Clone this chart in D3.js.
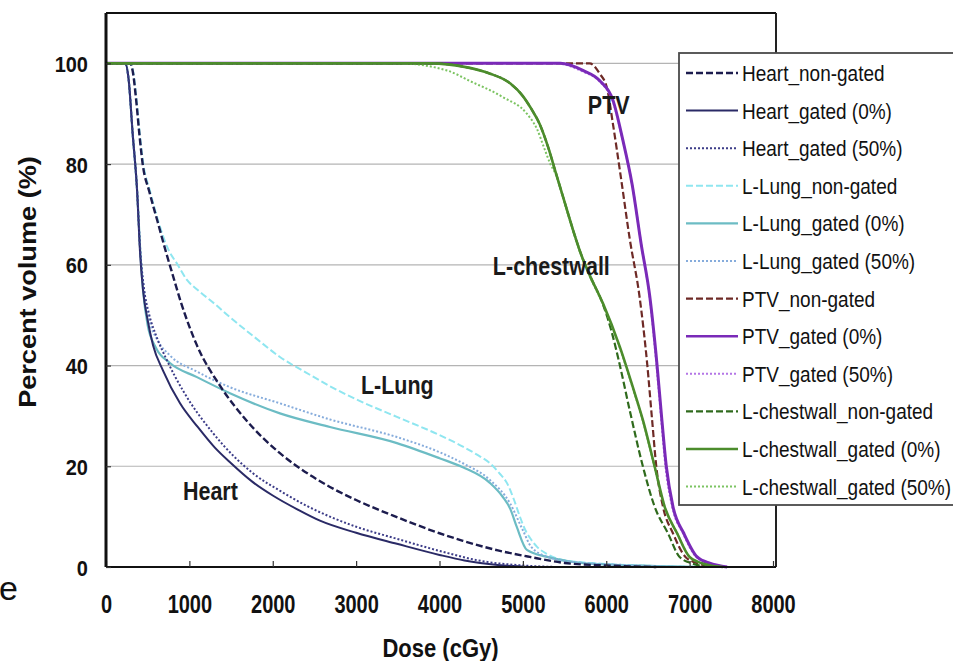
<!DOCTYPE html>
<html>
<head>
<meta charset="utf-8">
<script src="https://cdn.jsdelivr.net/npm/d3@7/dist/d3.min.js"></script>
<style>
  html, body { margin: 0; padding: 0; background: #fff; }
  svg { display: block; }
  text { font-family: "Liberation Sans", Arial, sans-serif; }
</style>
</head>
<body>
<div id="chart"></div>
<script>
// ---------- DATA ----------
const xTicks = [0, 1000, 2000, 3000, 4000, 5000, 6000, 7000, 8000];
const yTicks = [0, 20, 40, 60, 80, 100];

const heartNonGated = [[0,100],[290,100],[320,98.5],[360,93],[400,86],[440,80],[520,74.5],[620,68.5],[720,62.5],[800,58],[900,52.5],[1091,44],[1367,36],[1690,29],[2086,22.6],[2482,17.9],[2686,15.9],[3000,13.3],[3489,9.9],[4000,6.7],[4281,5.2],[4700,3.3],[5084,2],[5500,0.8],[6000,0.3],[6600,0]];
const heartGated0 = [[0,100],[230,100],[270,97],[320,86],[372,75],[410,62],[444,55],[500,49],[565,44],[684,39],[888,32.5],[1100,27.8],[1300,23.8],[1500,20.6],[1750,17],[2000,14.2],[2300,11.4],[2566,9.2],[3000,6.8],[3489,4.6],[4000,2.4],[4300,1.3],[4700,0.4],[5100,0]];
const heartGated50 = [[0,100],[230,100],[270,97],[320,86],[372,75],[410,63],[450,56],[520,50],[600,46],[732,41],[924,35],[1283,26.6],[1763,18.6],[2100,15],[2400,12.2],[2686,10],[3000,8],[3489,5.6],[4000,3.2],[4500,1.2],[5000,0.3],[5400,0]];

const lungNonGated = [[0,100],[290,100],[325,98.5],[365,93],[405,86],[448,80],[530,74.5],[630,68.5],[735,63.5],[860,60],[971,57],[1100,55],[1300,52.3],[1487,49.6],[1800,45.4],[2086,41.7],[2400,38.6],[2686,35.9],[3000,33.3],[3489,29.8],[4000,26.2],[4281,23.9],[4450,22.3],[4604,20.6],[4720,18.6],[4808,16.7],[4890,13.5],[4964,10],[5030,7.3],[5084,5.8],[5170,4],[5300,2.5],[5480,1.4],[6000,0.6],[6600,0.2],[7300,0]];
const lungGated0 = [[0,100],[230,100],[270,97],[320,86],[372,75],[410,63],[444,55],[500,48],[600,43.5],[767,40.5],[1091,37.7],[1487,34.5],[2086,30.5],[2686,27.8],[3489,24.6],[4000,21.6],[4281,19.8],[4604,16.7],[4760,13.9],[4850,11.5],[4928,7.9],[5048,3.4],[5290,2],[5600,1],[6000,0.5],[6600,0.2],[7200,0]];
const lungGated50 = [[0,100],[230,100],[270,97],[320,86],[372,75],[410,63],[450,56],[520,49],[620,45],[767,42],[1091,38.8],[1487,35.7],[2086,32.5],[2686,29.3],[3489,25.8],[4000,22.8],[4281,20.6],[4604,17.3],[4844,12.7],[5000,7.3],[5100,4],[5300,2],[5600,1],[6200,0.4],[7000,0]];

const ptvNonGated = [[0,100],[5800,100],[5920,98],[6010,95],[6080,88],[6170,78],[6283,65],[6400,53.6],[6490,40.5],[6550,29.2],[6600,20],[6680,12],[6800,6.7],[6950,2],[7100,0.7],[7300,0]];
const ptvGated0 = [[0,100],[5450,100],[5720,98.6],[5920,96.6],[6080,92.7],[6200,84.7],[6310,76],[6420,64],[6523,53.6],[6607,40.5],[6667,29.2],[6720,20],[6800,12],[6930,6.7],[7090,2],[7250,0.7],[7450,0]];
const ptvGated50 = [[0,100],[5400,100],[5700,98.5],[5920,96.4],[6080,92.4],[6200,84.5],[6310,76],[6420,64],[6520,53.6],[6600,40.5],[6660,29.2],[6710,20],[6790,12],[6920,6.7],[7080,2],[7250,0.7],[7450,0]];

const chestNonGated = [[0,100],[3900,100],[4300,99.3],[4600,98],[4850,96],[5000,93.5],[5100,91],[5200,88],[5300,83.5],[5400,78],[5500,72.5],[5600,67],[5700,62],[5800,58],[5959,52.2],[6060,47],[6150,41],[6283,31],[6439,20],[6580,12],[6740,6.7],[6880,2],[7050,0.6],[7250,0]];
const chestGated0 = [[0,100],[3900,100],[4300,99.3],[4600,98],[4850,96],[5000,93.5],[5100,91],[5200,88],[5300,83.5],[5400,78],[5500,72.5],[5600,67],[5700,62],[5800,58],[5959,52.4],[6163,43.7],[6319,35.7],[6439,29.2],[6580,20],[6700,12],[6850,6.7],[7000,2],[7200,0.5],[7400,0]];
const chestGated50 = [[0,100],[3500,100],[4089,98.6],[4364,96.5],[4760,93.3],[5048,90],[5168,87],[5260,83],[5330,80],[5400,77.8],[5500,72.3],[5600,66.8],[5700,61.8],[5800,57.8],[5959,52.2],[6163,43.5],[6319,35.5],[6439,29],[6580,19.8],[6700,12],[6850,6.7],[7000,2],[7200,0.5],[7400,0]];

const seriesNames = ["Heart_non-gated","Heart_gated (0%)","Heart_gated (50%)",
  "L-Lung_non-gated","L-Lung_gated (0%)","L-Lung_gated (50%)",
  "PTV_non-gated","PTV_gated (0%)","PTV_gated (50%)",
  "L-chestwall_non-gated","L-chestwall_gated (0%)","L-chestwall_gated (50%)"];
const seriesData = [heartNonGated, heartGated0, heartGated50,
  lungNonGated, lungGated0, lungGated50,
  ptvNonGated, ptvGated0, ptvGated50,
  chestNonGated, chestGated0, chestGated50];
const seriesColors = ["#1c1c4e","#2a2a66","#3c3c88",
  "#8fe6f0","#6cbcc4","#86acdc",
  "#6e2a26","#7a2ab8","#b476e6",
  "#2f6a1c","#4c8c2c","#7cc462"];
const seriesDash = ["7,3","","2,2","7,3","","2,2","7,3","","2,2","7,3","","2,2"];
const seriesWidth = [2.4,2,2,2,2.2,2,2.2,3,2,2.2,2.6,2];
// drawing order (lung below heart so the dark dashed stays visible near the top)
const drawOrder = [3,4,5,0,1,2,6,8,7,9,11,10];

const annotations = [
  {text:"PTV", x:5779, y:90},
  {text:"L-chestwall", x:4640, y:57.9},
  {text:"L-Lung", x:3057, y:34.3},
  {text:"Heart", x:923, y:13.3}
];

// ---------- CHART ----------
const W = 953, H = 661;
const svg = d3.select("#chart").append("svg").attr("width", W).attr("height", H);

const x = d3.scaleLinear().domain([0, 8000]).range([106, 773]);
const y = d3.scaleLinear().domain([0, 110]).range([567, 13]);
const frameRight = 776;

// gridlines
svg.append("g").selectAll("line").data(yTicks.filter(d => d > 0)).join("line")
  .attr("x1", x(0)).attr("x2", frameRight)
  .attr("y1", d => y(d)).attr("y2", d => y(d))
  .attr("stroke", "#b4b4b4").attr("stroke-width", 1.2);

// frame top & right
svg.append("line").attr("x1", x(0)).attr("x2", frameRight).attr("y1", y(110)).attr("y2", y(110))
  .attr("stroke", "#111").attr("stroke-width", 2);
svg.append("line").attr("x1", frameRight).attr("x2", frameRight).attr("y1", y(110)).attr("y2", y(0))
  .attr("stroke", "#222").attr("stroke-width", 2);

// curves
const line = d3.line().x(d => x(d[0])).y(d => y(d[1])).curve(d3.curveMonotoneX);
svg.append("g").selectAll("path").data(drawOrder).join("path")
  .attr("d", i => line(seriesData[i]))
  .attr("fill", "none")
  .attr("stroke", i => seriesColors[i])
  .attr("stroke-width", i => seriesWidth[i])
  .attr("stroke-dasharray", i => seriesDash[i] || null);

// axes
const xAxis = svg.append("g").attr("transform", `translate(0,${y(0)})`)
  .call(d3.axisBottom(x).tickValues(xTicks).tickSize(-6).tickFormat(d3.format("d")));
xAxis.select(".domain").attr("stroke", "#111").attr("stroke-width", 2.2)
  .attr("d", `M${x(0)},0H${frameRight}`);
xAxis.selectAll(".tick line").attr("stroke", "#333").attr("stroke-width", 1.2);
xAxis.selectAll(".tick text")
  .attr("y", null).attr("dy", null)
  .attr("transform", "translate(0,46) scale(1,1.25)")
  .attr("font-size", 20).attr("font-weight", "bold").attr("fill", "#111")
  .attr("font-family", "Liberation Sans, Arial, sans-serif");

const yAxis = svg.append("g").attr("transform", `translate(${x(0)},0)`)
  .call(d3.axisLeft(y).tickValues(yTicks).tickSize(-5).tickFormat(d3.format("d")));
yAxis.select(".domain").attr("stroke", "#111").attr("stroke-width", 3)
  .attr("d", `M0,${y(110)}V${y(0)}`);
yAxis.selectAll(".tick line").attr("stroke", "#333").attr("stroke-width", 1.2);
yAxis.selectAll(".tick text")
  .attr("x", null).attr("dy", null)
  .attr("transform", "translate(-18,8) scale(1,1.1)")
  .attr("font-size", 20).attr("font-weight", "bold").attr("fill", "#111")
  .attr("font-family", "Liberation Sans, Arial, sans-serif");

// axis titles
svg.append("text")
  .attr("transform", `translate(${(x(0) + x(8000)) / 2 + 1},657) scale(1,1.15)`)
  .attr("text-anchor", "middle").attr("font-size", 22).attr("font-weight", "bold").attr("fill", "#111")
  .text("Dose (cGy)");
svg.append("text")
  .attr("transform", `translate(36,${(y(0) + y(110)) / 2 - 8}) scale(1,1.18) rotate(-90)`)
  .attr("text-anchor", "middle").attr("font-size", 23).attr("font-weight", "bold").attr("fill", "#111")
  .text("Percent volume (%)");

// annotations
svg.append("g").selectAll("text").data(annotations).join("text")
  .attr("transform", d => `translate(${x(d.x)},${y(d.y)}) scale(1,1.17)`)
  .attr("font-size", 21.5).attr("font-weight", "bold").attr("fill", "#1a1a1a")
  .text(d => d.text);

// stray serif letter at left edge
svg.append("text").attr("x", 18).attr("y", 600).attr("text-anchor", "end")
  .attr("font-family", "Liberation Serif, Times New Roman, serif").attr("font-size", 34).attr("fill", "#111")
  .text("e");

// legend
const lg = svg.append("g");
lg.append("rect").attr("x", 679).attr("y", 53).attr("width", 300).attr("height", 452)
  .attr("fill", "#fff").attr("stroke", "#4a4a4a").attr("stroke-width", 1.8);
const items = lg.selectAll("g.item").data(seriesNames).join("g").attr("class", "item")
  .attr("transform", (d, i) => `translate(0,${73 + i * 37.6})`);
items.append("line").attr("x1", 686).attr("x2", 738).attr("y1", 0).attr("y2", 0)
  .attr("stroke", (d, i) => seriesColors[i])
  .attr("stroke-width", (d, i) => Math.min(seriesWidth[i], 2.6))
  .attr("stroke-dasharray", (d, i) => seriesDash[i] || null);
items.append("text")
  .attr("transform", "translate(742,8) scale(1,1.15)")
  .attr("font-size", 19).attr("fill", "#111")
  .text(d => d);
</script>
</body>
</html>
